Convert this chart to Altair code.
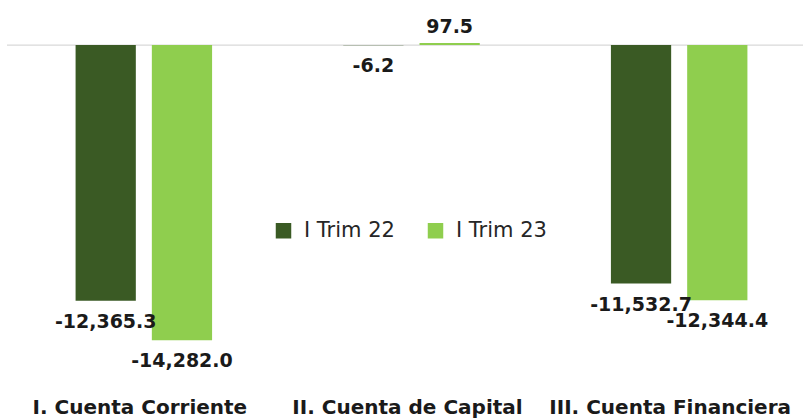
import altair as alt
import pandas as pd

categories = ["I. Cuenta Corriente", "II. Cuenta de Capital", "III. Cuenta Financiera"]
series = ["I Trim 22", "I Trim 23"]
trim22 = [-12365.3, -6.2, -11532.7]
trim23 = [-14282.0, 97.5, -12344.4]

rows = []
for c, a, b in zip(categories, trim22, trim23):
    rows.append({"cat": c, "serie": series[0], "val": a})
    rows.append({"cat": c, "serie": series[1], "val": b})
df = pd.DataFrame(rows)

FONT = "DejaVu Sans"
W, H = 796, 380
YDOM = [-16200, 2180]

x = alt.X("cat:N", sort=categories, title=None,
          scale=alt.Scale(paddingInner=0, paddingOuter=0, range=[3, 806]),
          axis=alt.Axis(labelAngle=0, ticks=False, domain=False, grid=False, labelLimit=0,
                        labelFont=FONT, labelFontSize=20, labelFontWeight="bold",
                        labelColor="#1a1a1a", labelPadding=17,
                        labelOffset={"condition": {"test": "datum.value == 'III. Cuenta Financiera'",
                                                   "value": -9}, "value": -4}))
xo = alt.XOffset("serie:N", sort=series,
                 scale=alt.Scale(paddingInner=0.21, paddingOuter=0.86))
y = alt.Y("val:Q", scale=alt.Scale(domain=YDOM, nice=False, zero=False), axis=None)

base = alt.Chart(df).transform_calculate(
    lab="replace(format(datum.val, ',.1f'), '\u2212', '-')"
)

zero = alt.Chart(pd.DataFrame({"z": [0]})).mark_rule(color="#d9d9d9", strokeWidth=1.2).encode(
    y=alt.Y("z:Q", scale=alt.Scale(domain=YDOM, nice=False, zero=False), axis=None),
    x=alt.value(0), x2=alt.value(W))

bars = base.mark_bar().encode(
    x=x, xOffset=xo, y=y, y2=alt.datum(0),
    color=alt.Color("serie:N", sort=series,
                    scale=alt.Scale(domain=series, range=["#3a5a24", "#8fce4e"]),
                    legend=alt.Legend(title=None, orient="none", legendX=266, legendY=220,
                                      direction="horizontal", symbolType="square",
                                      symbolSize=240, symbolStrokeWidth=0,
                                      labelFont=FONT, labelFontSize=21, labelColor="#262626",
                                      labelOffset=10, columnPadding=30)),
)

neg = base.transform_filter("datum.val < 0").mark_text(
    baseline="top", dy=12, font=FONT, fontSize=19, fontWeight="bold", color="#1a1a1a"
).encode(x=x, xOffset=xo, y=y, text="lab:N")

pos = base.transform_filter("datum.val >= 0").mark_text(
    baseline="bottom", dy=-6, font=FONT, fontSize=19, fontWeight="bold", color="#1a1a1a"
).encode(x=x, xOffset=xo, y=y, text="lab:N")

chart = alt.layer(zero, bars, neg, pos).properties(
    width=W, height=H, background="white",
    autosize=alt.AutoSizeParams(type="none"),
    padding={"left": 7, "top": 0, "right": 0, "bottom": 40},
).configure_view(stroke=None)

chart.save("out.html", embed_options={"renderer": "svg", "actions": False})
